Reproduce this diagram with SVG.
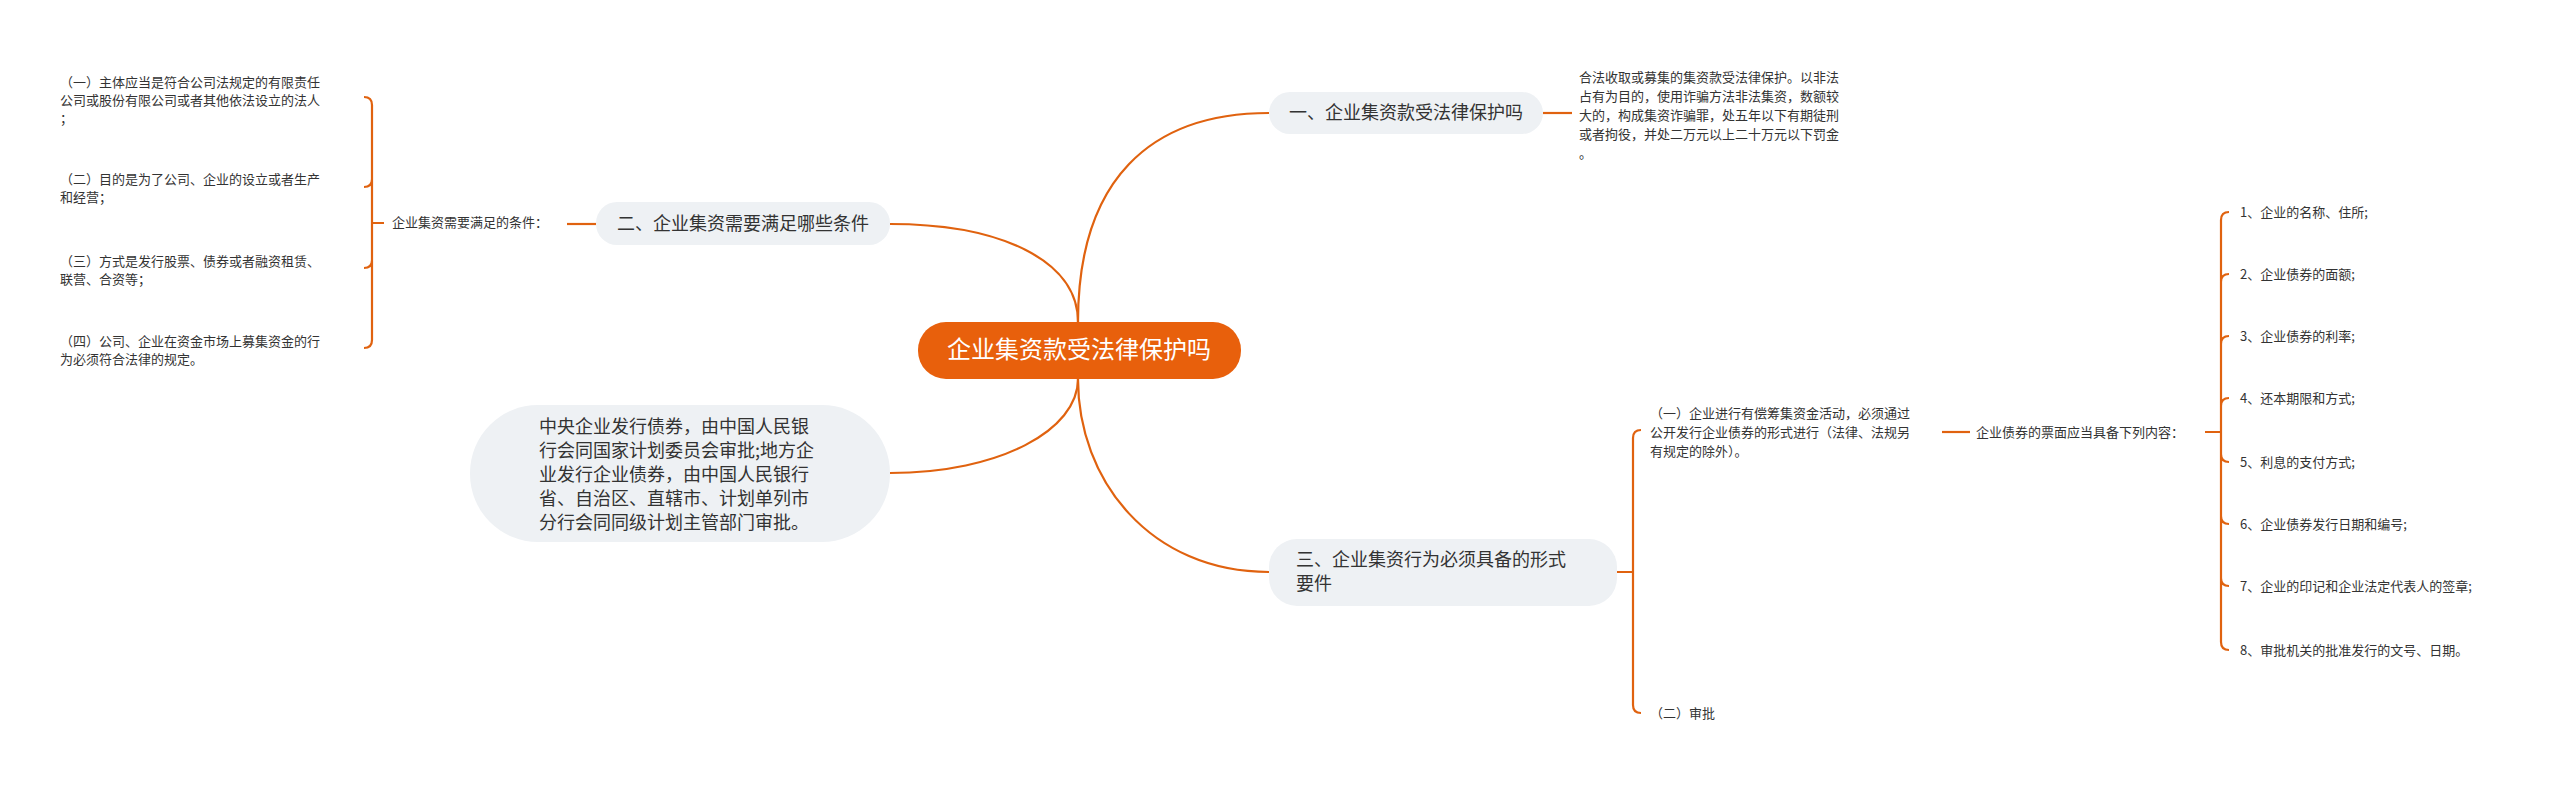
<svg xmlns="http://www.w3.org/2000/svg" width="2560" height="790" viewBox="0 0 2560 790">
<style>
text{font-family:"Noto Sans CJK SC","Liberation Sans",sans-serif;fill:#333}
.s{font-size:13px}
.m{font-size:18px}
.c{fill:none;stroke:#E0620F;stroke-width:2.2}
.g{fill:#EEF1F4}
</style>
<rect width="2560" height="790" fill="#fff"/>
<g id="connectors">
<path class="c" d="M1078 322 C1078 180 1150 113 1269 113"/>
<path class="c" d="M1078 322 C1078 260 1000 224 890 224"/>
<path class="c" d="M1078 379 C1078 480 1150 572 1269 572"/>
<path class="c" d="M1078 379 C1078 430 1000 473 890 473"/>
<path class="c" d="M1543 113 H1572"/>
<path class="c" d="M596 224 H567"/>
<path class="c" d="M384 223 H372 M372 223 V105 Q372 97 364 97 M372 223 V179 Q372 187 364 187 M372 223 V260 Q372 268 364 268 M372 223 V340 Q372 348 364 348"/>
<path class="c" d="M1617 572 H1633 V438 Q1633 430 1641 430 M1633 572 V705 Q1633 713 1641 713"/>
<path class="c" d="M1942 432 H1970"/>
<path class="c" d="M2205 432 H2221 V220 Q2221 212 2229 212 M2221 432 V282 Q2221 274 2229 274 M2221 432 V344 Q2221 336 2229 336 M2221 432 V406 Q2221 398 2229 398 M2221 432 V454 Q2221 462 2229 462 M2221 432 V516 Q2221 524 2229 524 M2221 432 V578 Q2221 586 2229 586 M2221 432 V642 Q2221 650 2229 650"/>
</g>
<g id="root">
<rect x="918" y="322" width="323" height="57" rx="28" fill="#E8600C"/>
<text x="1079" y="358" font-size="24" text-anchor="middle" style="fill:#fff">企业集资款受法律保护吗</text>
</g>
<g id="b1">
<rect class="g" x="1269" y="92" width="274" height="42" rx="21"/>
<text class="m" x="1406" y="119" text-anchor="middle">一、企业集资款受法律保护吗</text>
</g>
<g id="b1t">
<text class="s"><tspan x="1579" y="82">合法收取或募集的集资款受法律保护。以非法</tspan><tspan x="1579" y="101">占有为目的，使用诈骗方法非法集资，数额较</tspan><tspan x="1579" y="120">大的，构成集资诈骗罪，处五年以下有期徒刑</tspan><tspan x="1579" y="139">或者拘役，并处二万元以上二十万元以下罚金</tspan><tspan x="1579" y="158">。</tspan></text>
</g>
<g id="b2">
<rect class="g" x="596" y="202" width="294" height="43" rx="21"/>
<text class="m" x="743" y="230" text-anchor="middle">二、企业集资需要满足哪些条件</text>
</g>
<g id="b2l"><text class="s" x="392" y="227">企业集资需要满足的条件：</text></g>
<g id="b2i1"><text class="s"><tspan x="60" y="87">（一）主体应当是符合公司法规定的有限责任</tspan><tspan x="60" y="105">公司或股份有限公司或者其他依法设立的法人</tspan><tspan x="60" y="123">；</tspan></text></g>
<g id="b2i2"><text class="s"><tspan x="60" y="184">（二）目的是为了公司、企业的设立或者生产</tspan><tspan x="60" y="202">和经营；</tspan></text></g>
<g id="b2i3"><text class="s"><tspan x="60" y="266">（三）方式是发行股票、债券或者融资租赁、</tspan><tspan x="60" y="284">联营、合资等；</tspan></text></g>
<g id="b2i4"><text class="s"><tspan x="60" y="346">（四）公司、企业在资金市场上募集资金的行</tspan><tspan x="60" y="364">为必须符合法律的规定。</tspan></text></g>
<g id="b4">
<rect class="g" x="470" y="405" width="420" height="137" rx="68"/>
<text class="m"><tspan x="539" y="433">中央企业发行债券，由中国人民银</tspan><tspan x="539" y="457">行会同国家计划委员会审批;地方企</tspan><tspan x="539" y="481">业发行企业债券，由中国人民银行</tspan><tspan x="539" y="505">省、自治区、直辖市、计划单列市</tspan><tspan x="539" y="529">分行会同同级计划主管部门审批。</tspan></text>
</g>
<g id="b3">
<rect class="g" x="1269" y="539" width="348" height="67" rx="28"/>
<text class="m"><tspan x="1296" y="566">三、企业集资行为必须具备的形式</tspan><tspan x="1296" y="590">要件</tspan></text>
</g>
<g id="b3s1"><text class="s"><tspan x="1650" y="418">（一）企业进行有偿筹集资金活动，必须通过</tspan><tspan x="1650" y="437">公开发行企业债券的形式进行（法律、法规另</tspan><tspan x="1650" y="456">有规定的除外）。</tspan></text></g>
<g id="b3s2"><text class="s" x="1650" y="718">（二）审批</text></g>
<g id="b3l"><text class="s" x="1976" y="437">企业债券的票面应当具备下列内容：</text></g>
<g id="items" class="s">
<text class="s" x="2240" y="217">1、企业的名称、住所;</text>
<text class="s" x="2240" y="279">2、企业债券的面额;</text>
<text class="s" x="2240" y="341">3、企业债券的利率;</text>
<text class="s" x="2240" y="403">4、还本期限和方式;</text>
<text class="s" x="2240" y="467">5、利息的支付方式;</text>
<text class="s" x="2240" y="529">6、企业债券发行日期和编号;</text>
<text class="s" x="2240" y="591">7、企业的印记和企业法定代表人的签章;</text>
<text class="s" x="2240" y="655">8、审批机关的批准发行的文号、日期。</text>
</g>
</svg>
